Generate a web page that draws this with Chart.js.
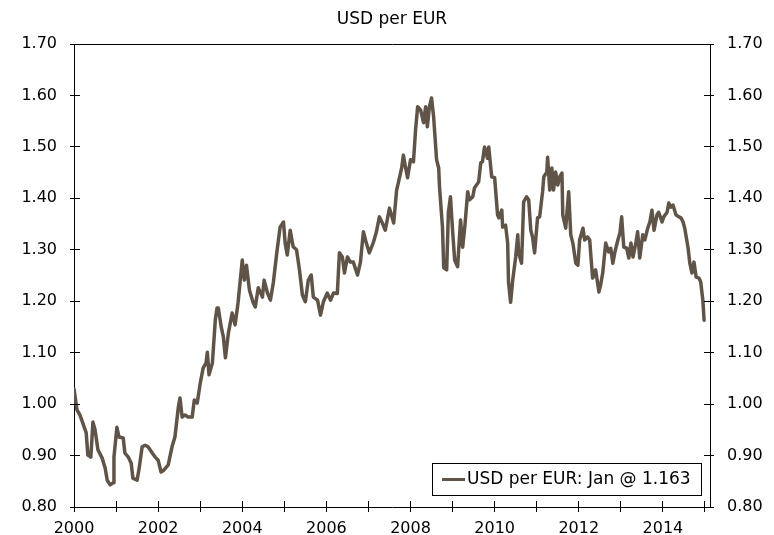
<!DOCTYPE html>
<html><head><meta charset="utf-8">
<script src="https://cdn.jsdelivr.net/npm/chart.js@4.4.1/dist/chart.umd.min.js"></script>
<style>html,body{margin:0;padding:0;overflow:hidden;background:#fff;width:774px;height:535px}canvas{display:block}</style>
</head><body>
<canvas id="c" width="774" height="555"></canvas>
<script>
const seriesName = 'USD per EUR';
const subtitleText = 'USD per EUR';
const lastMonth = 'Jan';

const dates = [
2000.00,2000.07,2000.14,2000.21,2000.29,2000.33,2000.40,2000.45,2000.50,2000.57,2000.67,2000.74,2000.79,2000.86,2000.93,2000.95,
2001.02,2001.07,2001.17,2001.21,2001.29,2001.36,2001.40,2001.50,2001.55,2001.62,2001.69,2001.76,2001.86,2001.93,
2002.00,2002.07,2002.14,2002.24,2002.33,2002.40,2002.48,2002.52,2002.57,2002.64,2002.71,2002.81,2002.86,2002.93,
2003.00,2003.07,2003.14,2003.17,2003.21,2003.29,2003.36,2003.40,2003.43,2003.50,2003.55,2003.60,2003.67,2003.76,2003.83,2003.90,
2004.00,2004.05,2004.10,2004.17,2004.26,2004.31,2004.38,2004.48,2004.52,2004.60,2004.67,2004.74,2004.83,2004.90,2004.98,
2005.02,2005.07,2005.14,2005.21,2005.29,2005.36,2005.43,2005.50,2005.57,2005.64,2005.69,2005.79,2005.86,2005.93,
2006.02,2006.10,2006.17,2006.26,2006.31,2006.38,2006.43,2006.50,2006.57,2006.64,2006.74,2006.81,2006.88,2006.95,
2007.02,2007.12,2007.19,2007.26,2007.33,2007.40,2007.50,2007.60,2007.67,2007.71,2007.79,2007.83,2007.88,2007.93,
2008.00,2008.07,2008.12,2008.17,2008.24,2008.31,2008.36,2008.40,2008.45,2008.50,2008.55,2008.62,2008.67,2008.69,2008.76,2008.79,2008.86,2008.90,2008.95,
2009.00,2009.05,2009.12,2009.19,2009.24,2009.29,2009.36,2009.40,2009.48,2009.52,2009.62,2009.67,2009.71,2009.76,2009.83,2009.86,2009.93,
2010.00,2010.07,2010.10,2010.17,2010.19,2010.26,2010.31,2010.33,2010.38,2010.43,2010.50,2010.55,2010.57,2010.64,2010.69,2010.76,2010.81,2010.86,2010.90,2010.95,
2011.02,2011.07,2011.14,2011.17,2011.24,2011.26,2011.31,2011.36,2011.40,2011.45,2011.50,2011.55,2011.60,2011.62,2011.69,2011.76,2011.81,2011.86,2011.93,2011.98,
2012.02,2012.10,2012.14,2012.21,2012.26,2012.29,2012.33,2012.40,2012.48,2012.52,2012.57,2012.64,2012.71,2012.76,2012.81,2012.86,2012.93,2012.98,
2013.02,2013.07,2013.14,2013.19,2013.24,2013.29,2013.36,2013.40,2013.45,2013.52,2013.57,2013.64,2013.69,2013.74,2013.79,2013.86,2013.90,2013.98,
2014.02,2014.10,2014.14,2014.19,2014.24,2014.31,2014.38,2014.43,2014.48,2014.52,2014.60,2014.64,2014.69,2014.74,2014.79,2014.86,2014.90,2014.95,2014.98
];
const values = [
1.030,0.989,0.979,0.963,0.944,0.901,0.897,0.965,0.950,0.911,0.895,0.876,0.852,0.843,0.847,0.897,
0.955,0.936,0.934,0.905,0.897,0.885,0.856,0.852,0.876,0.917,0.920,0.917,0.905,0.897,
0.891,0.868,0.872,0.882,0.917,0.936,0.994,1.012,0.975,0.979,0.975,0.975,1.008,1.002,
1.040,1.070,1.080,1.101,1.057,1.080,1.164,1.187,1.187,1.150,1.131,1.090,1.138,1.177,1.154,1.197,
1.280,1.241,1.270,1.222,1.197,1.189,1.226,1.208,1.241,1.216,1.202,1.237,1.300,1.344,1.354,
1.313,1.290,1.338,1.306,1.300,1.261,1.212,1.199,1.241,1.251,1.208,1.202,1.173,1.199,
1.216,1.202,1.216,1.215,1.294,1.286,1.255,1.286,1.276,1.276,1.251,1.276,1.335,1.313,
1.294,1.315,1.335,1.364,1.352,1.338,1.381,1.352,1.416,1.430,1.459,1.484,1.461,1.440,
1.475,1.471,1.533,1.578,1.572,1.547,1.578,1.539,1.578,1.595,1.558,1.475,1.459,1.422,1.344,1.265,1.261,1.372,1.403,
1.338,1.280,1.267,1.358,1.305,1.344,1.413,1.397,1.403,1.420,1.432,1.469,1.471,1.500,1.478,1.500,1.442,
1.440,1.368,1.362,1.377,1.344,1.348,1.313,1.237,1.198,1.241,1.286,1.329,1.294,1.274,1.393,1.403,1.397,1.338,1.325,1.294,
1.362,1.364,1.413,1.442,1.451,1.480,1.416,1.459,1.416,1.451,1.426,1.442,1.449,1.368,1.342,1.413,1.329,1.313,1.274,1.270,
1.319,1.342,1.319,1.325,1.319,1.286,1.245,1.261,1.218,1.232,1.255,1.313,1.296,1.303,1.274,1.296,1.319,1.333,
1.364,1.305,1.303,1.284,1.313,1.286,1.315,1.335,1.284,1.329,1.319,1.342,1.354,1.377,1.338,1.368,1.373,1.354,
1.364,1.373,1.391,1.383,1.387,1.368,1.364,1.362,1.354,1.342,1.303,1.274,1.255,1.276,1.247,1.245,1.237,1.202,1.163
];

const xTickYears = [2000,2001,2002,2003,2004,2005,2006,2007,2008,2009,2010,2011,2012,2013,2014,2015];
const xLabelYears = [2000,2002,2004,2006,2008,2010,2012,2014];
const yTickValues = [0.80,0.90,1.00,1.10,1.20,1.30,1.40,1.50,1.60,1.70];
const xMin = 2000, xMax = 2015.12, yMin = 0.80, yMax = 1.70;

const FONT = '"DejaVu Sans", Verdana, sans-serif';
const ink = '#000000';
const lineColor = '#5f5447';

const innerTicks = {
  id: 'innerTicks',
  afterDraw(chart) {
    const ctx = chart.ctx, a = chart.chartArea;
    ctx.save();
    ctx.strokeStyle = ink; ctx.lineWidth = 1;
    const xs = chart.scales.x;
    xs.ticks.forEach(t => {
      const px = Math.round(xs.getPixelForValue(t.value) - 0.5) + 0.5;
      ctx.beginPath(); ctx.moveTo(px, a.bottom); ctx.lineTo(px, a.bottom - 6); ctx.stroke();
    });
    ['y', 'y2'].forEach(id => {
      const s = chart.scales[id];
      const x0 = id === 'y' ? a.left : a.right;
      const dir = id === 'y' ? 1 : -1;
      s.ticks.forEach(t => {
        const py = Math.round(s.getPixelForValue(t.value) - 0.5) + 0.5;
        ctx.beginPath(); ctx.moveTo(x0, py); ctx.lineTo(x0 + dir * 6, py); ctx.stroke();
      });
    });
    ctx.restore();
  }
};

const overlay = {
  id: 'overlay',
  afterDraw(chart) {
    const ctx = chart.ctx, a = chart.chartArea;
    ctx.save();
    ctx.fillStyle = ink;
    ctx.font = '17px ' + FONT;
    ctx.textAlign = 'center'; ctx.textBaseline = 'alphabetic';
    ctx.fillText(subtitleText, (a.left + a.right) / 2, 24);
    const label = chart.data.datasets[0].label;
    ctx.font = '17px ' + FONT;
    const tw = ctx.measureText(label).width;
    const boxH = 32;
    const boxW = Math.round(10 + 23 + 2 + tw + 10);
    const boxR = Math.round(a.right - 9), boxB = Math.round(a.bottom - 12);
    const boxL = boxR - boxW, boxT = boxB - boxH;
    ctx.fillStyle = '#fff'; ctx.fillRect(boxL, boxT, boxW, boxH);
    ctx.strokeStyle = ink; ctx.lineWidth = 1;
    ctx.strokeRect(boxL + 0.5, boxT + 0.5, boxW, boxH);
    ctx.strokeStyle = lineColor; ctx.lineWidth = 3;
    ctx.beginPath(); ctx.moveTo(boxL + 10, boxT + 16.5); ctx.lineTo(boxL + 33, boxT + 16.5); ctx.stroke();
    ctx.fillStyle = ink; ctx.textAlign = 'left'; ctx.textBaseline = 'middle';
    ctx.fillText(label, boxL + 35, boxT + 17);
    ctx.restore();
  }
};

const tickFont = { family: FONT, size: 16 };

new Chart(document.getElementById('c'), {
  type: 'line',
  data: {
    datasets: [{
      label: seriesName + ': ' + lastMonth + ' @ ' + values[values.length - 1].toFixed(3),
      data: dates.map((d, i) => ({ x: d, y: values[i] })),
      borderColor: lineColor,
      borderWidth: 3.5,
      borderJoinStyle: 'round',
      borderCapStyle: 'round',
      pointRadius: 0,
      tension: 0,
      fill: false,
      xAxisID: 'x',
      yAxisID: 'y'
    }]
  },
  options: {
    responsive: false,
    animation: false,
    layout: { padding: 0 },
    plugins: { legend: { display: false }, title: { display: false }, tooltip: { enabled: false } },
    scales: {
      x: {
        type: 'linear', position: 'bottom', min: xMin, max: xMax,
        afterBuildTicks: s => { s.ticks = xTickYears.map(v => ({ value: v })); },
        afterFit: s => { s.height = 48; },
        ticks: { autoSkip: false, maxRotation: 0, padding: 7, color: ink, font: tickFont,
          callback: v => xLabelYears.includes(v) ? String(v) : '' },
        grid: { display: true, drawOnChartArea: false, drawTicks: true, tickLength: 5, color: ink, lineWidth: 1 },
        border: { display: true, color: ink, width: 1 }
      },
      x2: {
        type: 'linear', position: 'top', min: xMin, max: xMax,
        afterFit: s => { s.height = 44; },
        ticks: { display: false },
        grid: { display: false, drawTicks: false },
        border: { display: true, color: ink, width: 1 }
      },
      y: {
        type: 'linear', position: 'left', min: yMin, max: yMax,
        afterBuildTicks: s => { s.ticks = yTickValues.map(v => ({ value: v })); },
        afterFit: s => { s.width = 74; },
        ticks: { padding: 13, color: ink, font: tickFont, callback: v => v.toFixed(2) },
        grid: { display: true, drawOnChartArea: false, drawTicks: true, tickLength: 4, color: ink, lineWidth: 1 },
        border: { display: true, color: ink, width: 1 }
      },
      y2: {
        type: 'linear', position: 'right', min: yMin, max: yMax,
        afterBuildTicks: s => { s.ticks = yTickValues.map(v => ({ value: v })); },
        afterFit: s => { s.width = 64; },
        ticks: { padding: 13, color: ink, font: tickFont, callback: v => v.toFixed(2) },
        grid: { display: true, drawOnChartArea: false, drawTicks: true, tickLength: 4, color: ink, lineWidth: 1 },
        border: { display: true, color: ink, width: 1 }
      }
    }
  },
  plugins: [innerTicks, overlay]
});
</script>
</body></html>
